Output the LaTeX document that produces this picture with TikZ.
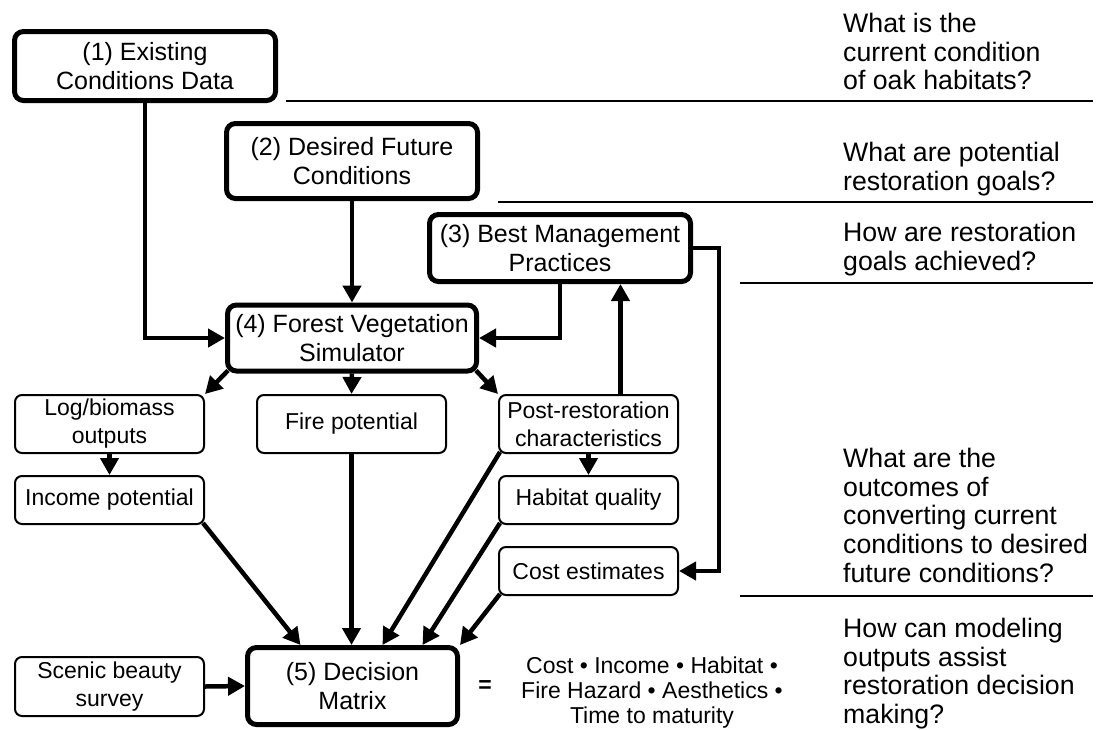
\documentclass[tikz,border=0pt]{standalone}
\usepackage{fontspec}
\setmainfont{Liberation Sans}
\usetikzlibrary{arrows.meta}
\begin{document}
\begin{tikzpicture}[x=1pt,y=-1pt,
  bigbox/.style={draw, line width=5pt, rounded corners=9pt, align=center, inner sep=0pt, font=\fontsize{25}{29}\selectfont},
  smallbox/.style={draw, line width=2pt, rounded corners=7pt, align=center, inner sep=0pt, font=\fontsize{23}{28}\selectfont},
  arr/.style={line width=4.5pt, -{Triangle[length=17pt,width=18pt]}},
  rulel/.style={line width=2pt},
  question/.style={anchor=north west, align=left, inner sep=0pt, font=\fontsize{26.7}{28.7}\selectfont}
]
\useasboundingbox (0,0) rectangle (1097,729);

% main boxes
\node[bigbox, minimum width=261pt, minimum height=69pt] (b1) at (145,66) {(1) Existing\\Conditions Data};
\node[bigbox, minimum width=251pt, minimum height=75pt] (b2) at (352,161) {(2) Desired Future\\Conditions};
\node[bigbox, minimum width=261pt, minimum height=67pt] (b3) at (560,248) {(3) Best Management\\Practices};
\node[bigbox, minimum width=249pt, minimum height=66pt] (b4) at (352,338) {(4) Forest Vegetation\\Simulator};
\node[bigbox, minimum width=210pt, minimum height=77pt] (dm) at (352.5,686) {(5) Decision\\Matrix};

% small boxes
\node[smallbox, minimum width=189pt, minimum height=58pt] (log) at (109.5,424) {Log/biomass\\outputs};
\node[smallbox, minimum width=189pt, minimum height=58pt] (fire) at (351.5,424) {Fire potential};
\node[smallbox, minimum width=179pt, minimum height=58pt] (post) at (588.5,424) {Post-restoration\\characteristics};
\node[smallbox, minimum width=189pt, minimum height=48pt] (inc) at (109.5,500) {Income potential};
\node[smallbox, minimum width=179pt, minimum height=48pt] (hab) at (588.5,500) {Habitat quality};
\node[smallbox, minimum width=179pt, minimum height=48pt] (cost) at (588.5,571) {Cost estimates};
\node[smallbox, minimum width=189pt, minimum height=59pt] (scenic) at (109.5,686.5) {Scenic beauty\\survey};

% result text
\node[inner sep=0pt, font=\fontsize{23}{25}\selectfont\bfseries] (eq) at (485,687) {=};
\node[anchor=north, align=center, inner sep=0pt, font=\fontsize{23}{25}\selectfont] (out) at (652,656.5) {Cost • Income • Habitat •\\Fire Hazard • Aesthetics •\\Time to maturity};

% questions
\node[question] (q1) at (843,13) {What is the\\current condition\\of oak habitats?};
\node[question] (q2) at (843,142) {What are potential\\restoration goals?};
\node[question] (q3) at (843,222) {How are restoration\\goals achieved?};
\node[question] (q4) at (843,448) {What are the\\outcomes of\\converting current\\conditions to desired\\future conditions?};
\node[question] (q5) at (843,618) {How can modeling\\outputs assist\\restoration decision\\making?};

% separator rules
\draw[rulel] (286,101) -- (1093,101);
\draw[rulel] (498,202) -- (1093,202);
\draw[rulel] (740,283) -- (1093,283);
\draw[rulel] (740,596) -- (1093,596);

% connectors
\coordinate (pu) at ([xshift=32pt]post.north);
\coordinate (pt) at (pu |- b3.south);
\draw[arr] (b1.south) |- (b4.west);
\draw[arr] (b2.south) -- (b4.north);
\draw[arr] (b3.south) |- (b4.east);
\draw[arr] (pu) -- (pt);
\draw[arr] (b3.east) -- ++(26,0) |- (cost.east);
\draw[arr] ([shift={(3pt,3pt)}]b4.south west) -- (log.north east);
\draw[arr] (b4.south) -- (fire.north);
\draw[arr] ([shift={(-3pt,3pt)}]b4.south east) -- (post.north west);
\draw[arr] (log.south) -- (inc.north);
\draw[arr] (post.south) -- (hab.north);
\draw[arr] ([shift={(-2pt,2pt)}]inc.south east) -- ([xshift=-52pt]dm.north);
\draw[arr] (fire.south) -- (fire.south |- dm.north);
\draw[arr] ([shift={(2pt,2pt)}]post.south west) -- ([xshift=30pt]dm.north);
\draw[arr] ([shift={(2pt,2pt)}]hab.south west) -- ([xshift=70pt]dm.north);
\draw[arr] ([shift={(2pt,2pt)}]cost.south west) -- (dm.north east);
\draw[arr] (scenic.east) -- (dm.west);
\end{tikzpicture}
\end{document}
